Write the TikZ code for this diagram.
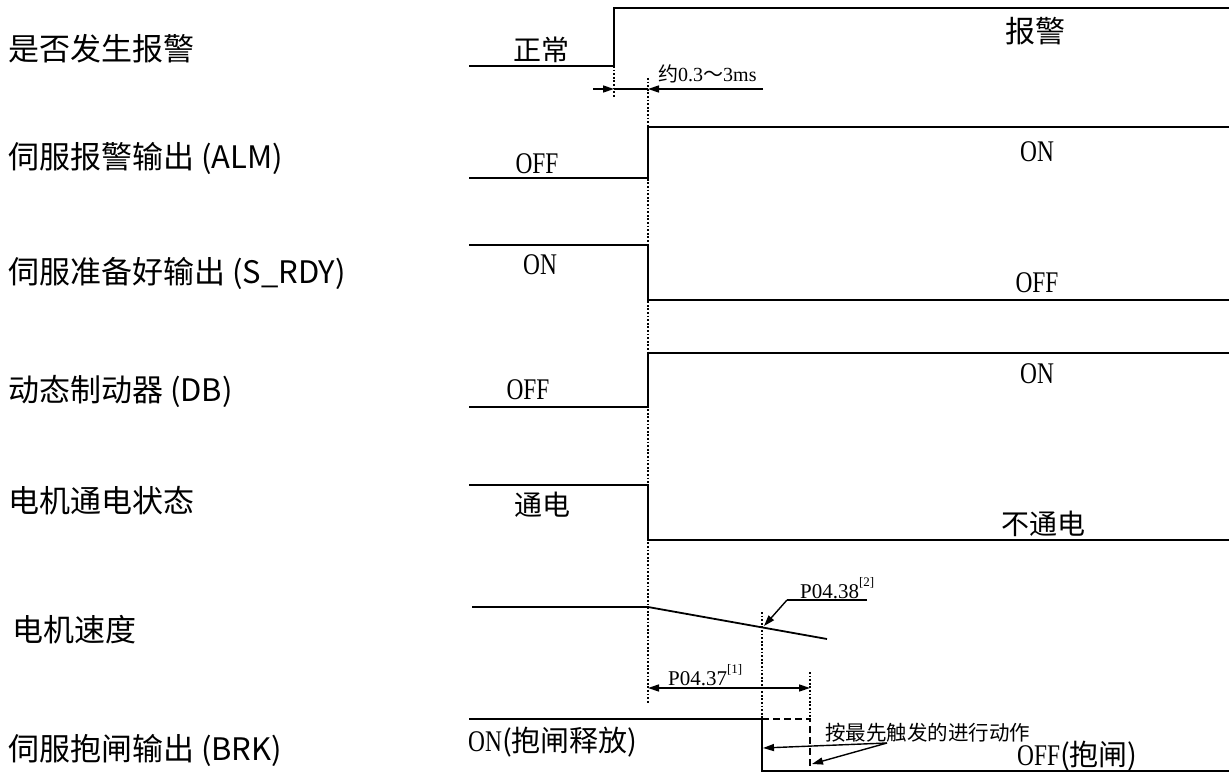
\documentclass[tikz,border=0pt]{standalone}
\usepackage{fontspec}
\setmainfont{Liberation Serif}
\newfontfamily\cjk{Noto Sans CJK SC}
\newfontfamily\nserif[FakeStretch=0.78]{Liberation Serif}
\usetikzlibrary{arrows.meta}
\tikzset{
  wave/.style={line width=1.8pt, line join=miter},
  guide/.style={line width=1.6pt, dash pattern=on 1.8pt off 1.8pt},
  brkdash/.style={line width=1.6pt, dash pattern=on 7pt off 4pt},
  dimline/.style={line width=1.4pt},
  tip/.style={-{Triangle[length=11pt,width=7pt]}},
  bothtips/.style={{Triangle[length=11pt,width=7pt]}-{Triangle[length=11pt,width=7pt]}},
  rowlabel/.style={font=\cjk\fontsize{31}{36}\selectfont, anchor=west, inner sep=0pt},
  cjkval/.style={font=\cjk\fontsize{28}{33}\selectfont, inner sep=0pt},
  latval/.style={font=\nserif\fontsize{30}{35}\selectfont, inner sep=0pt},
  note/.style={font=\fontsize{21}{25}\selectfont, inner sep=0pt},
}
\newcommand{\supnote}[1]{\raisebox{0.55em}{\fontsize{13}{13}\selectfont[#1]}}
\begin{document}
\begin{tikzpicture}[x=1pt,y=-1pt]
\useasboundingbox (0,0) rectangle (1229,776);

% row labels
\node[rowlabel] (L1) at (8,49)  {是否发生报警};
\node[rowlabel] (L2) at (8,158) {伺服报警输出 (ALM)};
\node[rowlabel] (L3) at (8,273) {伺服准备好输出 (S\_RDY)};
\node[rowlabel] (L4) at (8,391) {动态制动器 (DB)};
\node[rowlabel] (L5) at (8,501) {电机通电状态};
\node[rowlabel] (L6) at (12,630) {电机速度};
\node[rowlabel] (L7) at (8,750) {伺服抱闸输出 (BRK)};

% key coordinates
\coordinate (a66) at (614,66);
\coordinate (a97) at (614,97);
\coordinate (b78) at (648,78);
\coordinate (b703) at (648,703);
\coordinate (c612) at (762,612);
\coordinate (c719) at (762,719);
\coordinate (c771) at (762,771);
\coordinate (e672) at (810,672);
\coordinate (e719) at (810,719);
\coordinate (e771) at (810,771);

% waveforms
\draw[wave] (469,66) -- (a66) -- (614,8) -- (1229,8);
\draw[wave] (469,178) -- (648,178) -- (648,127) -- (1229,127);
\draw[wave] (469,245) -- (648,245) -- (648,300) -- (1229,300);
\draw[wave] (469,407) -- (648,407) -- (648,353) -- (1229,353);
\draw[wave] (469,485) -- (648,485) -- (648,540) -- (1229,540);
\draw[wave] (472,607) -- (648,607) -- (827,639);
\draw[wave] (469,719) -- (c719) -- (c771) -- (1229,771);

% guide lines
\draw[guide] (a66) -- (a97);
\draw[guide] (b78) -- (b703);
\draw[guide] (c612) -- (c719);
\draw[guide] (e672) -- (e719);
\draw[brkdash] (c719) -- (e719) -- (e771);

% 0.3~3ms dimension
\coordinate (d1a) at (593,89);
\coordinate (d1b) at (614,89);
\coordinate (d1c) at (648,89);
\coordinate (d1d) at (763,89);
\draw[dimline,tip] (d1a) -- (d1b);
\draw[dimline] (d1b) -- (d1c);
\draw[dimline,tip] (d1d) -- (d1c);
\node[font=\fontsize{20}{24}\selectfont, inner sep=0pt, anchor=west] (T03) at (658,74) {{\cjk 约}0.3{\cjk ～}3ms};

% P04.38 leader
\coordinate (p38a) at (867,600);
\coordinate (p38b) at (787,600);
\coordinate (p38c) at (764,626);
\draw[dimline] (p38a) -- (p38b);
\draw[dimline,tip] (p38b) -- (p38c);
\node[note, anchor=west] (T38) at (800,588) {P04.38\supnote{2}};

% P04.37 dimension
\coordinate (p37a) at (648,688);
\coordinate (p37b) at (810,688);
\draw[dimline,bothtips] (p37a) -- (p37b);
\node[note, anchor=west] (T37) at (668,675) {P04.37\supnote{1}};

% first-trigger note
\node[font=\cjk\fontsize{20.5}{24}\selectfont, inner sep=0pt, anchor=west] (TF) at (825,733) {按最先触发的进行动作};
\coordinate (fa) at (887,743);
\coordinate (fb) at (763,748);
\coordinate (fc) at (812,764);
\draw[dimline,tip] (fa) -- (fb);
\draw[dimline,tip] (fa) -- (fc);

% state values
\node[cjkval] (V1a) at (541,50) {正常};
\node[font=\cjk\fontsize{30}{35}\selectfont, inner sep=0pt] (V1b) at (1035,31) {报警};
\node[latval] (V2a) at (537,164) {OFF};
\node[latval] (V2b) at (1037,152) {ON};
\node[latval] (V3a) at (540,265) {ON};
\node[latval] (V3b) at (1037,283) {OFF};
\node[latval] (V4a) at (528,390) {OFF};
\node[latval] (V4b) at (1037,374) {ON};
\node[cjkval] (V5a) at (542,505) {通电};
\node[cjkval] (V5b) at (1043,524) {不通电};
\node[inner sep=0pt, anchor=west] (V7a) at (468,742) {{\nserif\fontsize{30}{35}\selectfont ON}{\cjk\fontsize{29}{34}\selectfont (抱闸释放)}};
\node[inner sep=0pt, anchor=west] (V7b) at (1017,756) {{\nserif\fontsize{30}{35}\selectfont OFF}{\cjk\fontsize{29}{34}\selectfont (抱闸)}};
\end{tikzpicture}
\end{document}
